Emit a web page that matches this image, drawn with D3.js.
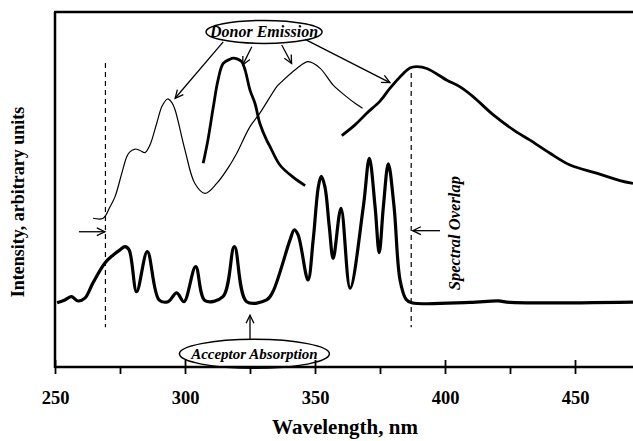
<!DOCTYPE html>
<html><head><meta charset="utf-8">
<script src="https://cdn.jsdelivr.net/npm/d3@7"></script>
<style>html,body{margin:0;padding:0;background:#fff;}svg{display:block;}</style>
</head><body>
<svg id="chart" width="633" height="441"></svg>
<script>
// ---- data ----
const xTickMajor = [250, 300, 350, 400, 450];
const xTickMinor = [275, 325, 375, 425];
// Acceptor absorption (thick, structured)
const acceptorNm = [250.8,253.8,256.4,258.8,261.5,264.6,269.2,272.3,275,276.9,278.5,281.4,285.5,290,293.5,296.8,299.6,304.1,307.7,314.6,319,323.7,331.4,333.8,340.4,342,343.5,347.3,349.3,351.3,352.4,353.8,355.5,357,360,363.5,368.6,370.9,373.1,374.7,376.3,378.2,380.4,382.7,385,387.2,409.6,420.4,425,472.3];
const acceptorVal = [18.1,18.9,19.8,18.6,19.4,23.7,29.3,31.5,33.0,33.9,33.0,21.2,32.5,18.9,18.4,20.9,18.4,28.3,18.7,19.8,33.9,18.4,18.9,21.2,35.8,38.6,37.2,24.5,35.8,50.8,53.7,50.8,39.5,30.6,44.7,22.2,45.2,58.8,45.2,32.2,45.2,57.2,45.2,24.5,19.1,18.1,18.2,18.6,18.2,18.3];
// Donor emission, thin trace
const donorThinNm = [264.6,268.5,271.2,273.1,275.7,277.6,278.8,280.8,282.7,284.6,286.5,289.1,291.2,293.3,295,296.2,300,303.8,307.7,312.2,317.3,319.9,325,328.8,335.3,336.5,343,347.4,351.9,357,362.2,365.4,368.3];
const donorThinVal = [41.9,41.9,45.2,48.0,54.6,59.2,60.6,61.4,61.0,60.4,62.5,68.6,73.5,75.5,74.4,72.4,61.1,51.7,48.9,51.7,56.9,60.2,67.7,71.5,79.0,79.9,84.1,86.0,84.2,79.4,76.1,74.3,72.9];
// Donor emission, thick narrow band
const donorThick1Nm = [307,308.8,310.9,312.7,314.7,317.3,318.6,320,321.8,323.1,325,326.9,328.8,331.4,332.7,336.5,341.7,346.2];
const donorThick1Val = [57.4,63.9,73.3,80.8,85.5,86.7,87.0,86.8,86.0,83.7,78.0,74.3,68.6,63.9,62.1,56.9,53.4,51.1];
// Donor emission, thick broad band
const donorThick2Nm = [360.3,365.4,369.9,375,378.8,384,386.5,389.1,393,400.7,405.8,410.9,418.6,426.3,432.7,440.4,448.1,458.3,467.3,472.3];
const donorThick2Val = [65.2,68.2,71.5,74.9,78.5,82.7,84.2,84.6,84.1,80.8,78.9,76.1,71.0,66.8,63.9,60.2,56.9,54.6,52.5,51.7];
// Spectral overlap limits (nm)
const overlapNm = [269.4, 387];

// ---- layout ----
const svg = d3.select("#chart");
const x = d3.scaleLinear().domain([250, 475]).range([55, 640]);
const y = d3.scaleLinear().domain([0, 100]).range([367, 12]);
const serif = "'Liberation Serif','Times New Roman',serif";

const zip = (a, b) => a.map((v, i) => [v, b[i]]);
const line = d3.line().x(d => x(d[0])).y(d => y(d[1])).curve(d3.curveCatmullRom.alpha(0.5));

svg.append("clipPath").attr("id","clip").append("rect").attr("x",55).attr("y",12).attr("width",578).attr("height",355);
const g = svg.append("g").attr("clip-path","url(#clip)");

g.append("path").datum(zip(acceptorNm, acceptorVal)).attr("d", line)
  .attr("fill","none").attr("stroke","#000").attr("stroke-width",3.2).attr("stroke-linejoin","round");
g.append("path").datum(zip(donorThinNm, donorThinVal)).attr("d", line)
  .attr("fill","none").attr("stroke","#000").attr("stroke-width",1.2);
g.append("path").datum(zip(donorThick1Nm, donorThick1Val)).attr("d", line)
  .attr("fill","none").attr("stroke","#000").attr("stroke-width",2.8);
g.append("path").datum(zip(donorThick2Nm, donorThick2Val)).attr("d", line)
  .attr("fill","none").attr("stroke","#000").attr("stroke-width",2.8);

// dashed overlap lines
const dashTop = [85.6, 82.8];
overlapNm.forEach((nm, i) => {
  svg.append("line").attr("x1", x(nm)).attr("x2", x(nm)).attr("y1", y(dashTop[i])).attr("y2", y(11.2))
    .attr("stroke","#000").attr("stroke-width",1.2).attr("stroke-dasharray","5,4");
});

// axes
const xAxisMajor = d3.axisBottom(x).tickValues(xTickMajor).tickSize(7).tickPadding(17).tickFormat(d3.format("d"));
const ax = svg.append("g").attr("transform", `translate(0,${y(0)})`).call(xAxisMajor);
ax.select(".domain").remove();
ax.selectAll(".tick line").attr("y1",-7).attr("y2",7).attr("stroke-width",1.8);
ax.selectAll(".tick text").attr("font-family",serif).attr("font-weight","bold").attr("font-size",18.5).attr("fill","#000");
const axMin = svg.append("g").attr("transform", `translate(0,${y(0)})`)
  .call(d3.axisBottom(x).tickValues(xTickMinor).tickSize(7).tickFormat(""));
axMin.select(".domain").remove();
axMin.selectAll(".tick line").attr("stroke-width",1.8);

// frame
svg.append("line").attr("x1",55).attr("x2",633).attr("y1",y(0)).attr("y2",y(0)).attr("stroke","#000").attr("stroke-width",2.5);
svg.append("line").attr("x1",55).attr("x2",55).attr("y1",y(100)).attr("y2",y(0)+1).attr("stroke","#000").attr("stroke-width",2.5);
svg.append("line").attr("x1",54).attr("x2",633).attr("y1",y(100)).attr("y2",y(100)).attr("stroke","#000").attr("stroke-width",2.5);

// axis titles
svg.append("text").attr("x",345).attr("y",434).attr("text-anchor","middle")
  .attr("font-family",serif).attr("font-weight","bold").attr("font-size",21).text("Wavelength, nm");
svg.append("text").attr("transform","translate(24,202) rotate(-90)").attr("text-anchor","middle")
  .attr("font-family",serif).attr("font-weight","bold").attr("font-size",18).text("Intensity, arbitrary units");

// arrow helper (open V head)
function arrow(x1, y1, x2, y2, w) {
  const a = Math.atan2(y2 - y1, x2 - x1), L = 9, h = 0.45;
  svg.append("line").attr("x1",x1).attr("y1",y1).attr("x2",x2).attr("y2",y2).attr("stroke","#000").attr("stroke-width",w||1.3);
  const p = [[x2 - L*Math.cos(a - h), y2 - L*Math.sin(a - h)], [x2, y2], [x2 - L*Math.cos(a + h), y2 - L*Math.sin(a + h)]];
  svg.append("path").attr("d", d3.line()(p)).attr("fill","none").attr("stroke","#000").attr("stroke-width",w||1.3);
}

// Donor emission label
svg.append("ellipse").attr("cx", x(330.4)).attr("cy", y(94.4)).attr("rx",58).attr("ry",11.5)
  .attr("fill","#fff").attr("stroke","#000").attr("stroke-width",1.5);
svg.append("text").attr("x", x(330.4)).attr("y", y(94.4)+5).attr("text-anchor","middle")
  .attr("font-family",serif).attr("font-weight","bold").attr("font-style","italic").attr("font-size",16).text("Donor Emission");
arrow(x(314.7), y(91.6), x(296.2), y(75.7));
arrow(x(325.7), y(90.2), x(322.2), y(85.1));
arrow(x(337.2), y(90.7), x(341), y(85.5));
arrow(x(346.2), y(92.3), x(378.8), y(80.1));

// Acceptor absorption label
svg.append("ellipse").attr("cx", x(326.7)).attr("cy", y(3.7)).attr("rx",75).attr("ry",14.5)
  .attr("fill","none").attr("stroke","#000").attr("stroke-width",1.5);
svg.append("text").attr("x", x(326.7)).attr("y", y(3.7)+5).attr("text-anchor","middle")
  .attr("font-family",serif).attr("font-weight","bold").attr("font-style","italic").attr("font-size",15).text("Acceptor Absorption");
arrow(x(325), y(7.6), x(325), y(14.6));

// overlap arrows
arrow(x(259.2), y(38.1), x(269.2), y(38.1));
arrow(x(398.1), y(38.4), x(387.6), y(38.4));
svg.append("text").attr("transform", `translate(${x(403.8)+5},${y(37.7)}) rotate(-90)`).attr("text-anchor","middle")
  .attr("font-family",serif).attr("font-weight","bold").attr("font-style","italic").attr("font-size",16.5).text("Spectral Overlap");
</script>
</body></html>
